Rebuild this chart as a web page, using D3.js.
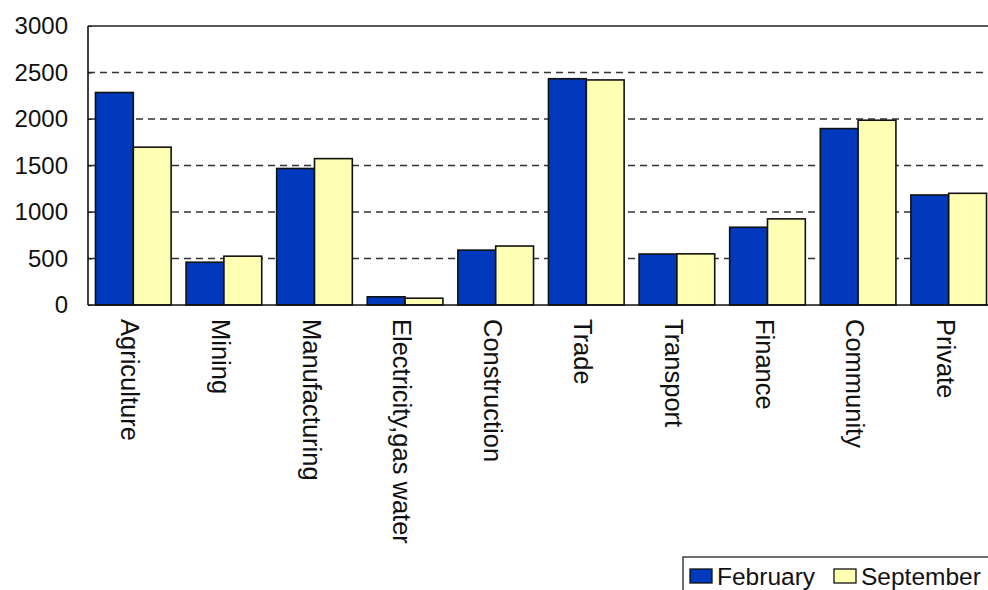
<!DOCTYPE html>
<html>
<head>
<meta charset="utf-8">
<script src="https://cdn.jsdelivr.net/npm/d3@7"></script>
<style>
  body { margin: 0; background: #fff; }
  svg { display: block; font-family: "Liberation Sans", Arial, sans-serif; }
</style>
</head>
<body>
<svg id="chart" width="988" height="590"></svg>
<script>
var categories = ['Agriculture', 'Mining', 'Manufacturing', 'Electricity,gas water',
    'Construction', 'Trade', 'Transport', 'Finance', 'Community', 'Private'];
var seriesNames = ['February', 'September'];
var february = [2285, 460, 1468, 88, 590, 2433, 548, 836, 1897, 1183];
var september = [1697, 525, 1574, 73, 634, 2420, 550, 926, 1987, 1201];
var yTicks = [0, 500, 1000, 1500, 2000, 2500, 3000];
var colors = ['#0039bd', '#ffffb3'];

var svg = d3.select('#chart');
var plotLeft = 88, plotTop = 26, plotBottom = 305, plotRight = 994;

var x = d3.scaleBand()
    .domain(categories)
    .range([plotLeft, plotRight])
    .paddingInner(0.165)
    .paddingOuter(0.0825);

var xSub = d3.scaleBand()
    .domain(seriesNames)
    .range([0, x.bandwidth()]);

var y = d3.scaleLinear()
    .domain([0, 3000])
    .range([plotBottom, plotTop]);

// dashed grid
svg.append('g')
    .selectAll('line')
    .data(yTicks.filter(function(t) { return t > 0 && t < 3000; }))
    .enter().append('line')
    .attr('x1', plotLeft).attr('x2', plotRight)
    .attr('y1', function(d) { return y(d); })
    .attr('y2', function(d) { return y(d); })
    .attr('stroke', '#333')
    .attr('stroke-width', 1.3)
    .attr('stroke-dasharray', '7,5');

// top border
svg.append('line')
    .attr('x1', plotLeft).attr('x2', plotRight)
    .attr('y1', y(3000)).attr('y2', y(3000))
    .attr('stroke', '#222').attr('stroke-width', 1.6);

// bars
var data = [february, september];
var groups = svg.append('g')
    .selectAll('g')
    .data(seriesNames)
    .enter().append('g')
    .attr('fill', function(d, i) { return colors[i]; });

groups.each(function(name, si) {
    d3.select(this).selectAll('rect')
        .data(data[si])
        .enter().append('rect')
        .attr('x', function(d, i) { return x(categories[i]) + xSub(name); })
        .attr('y', function(d) { return y(d); })
        .attr('width', xSub.bandwidth())
        .attr('height', function(d) { return y(0) - y(d); })
        .attr('stroke', '#111')
        .attr('stroke-width', 1.6);
});

// y axis
var yAxis = d3.axisLeft(y)
    .tickValues(yTicks)
    .tickFormat(d3.format('d'))
    .tickSize(-4)
    .tickPadding(20);

var gy = svg.append('g')
    .attr('transform', 'translate(' + plotLeft + ',0)')
    .call(yAxis);
gy.select('.domain').remove();
gy.selectAll('.tick line').attr('stroke', '#222');
gy.selectAll('text')
    .attr('font-size', 24)
    .attr('fill', '#111')
    .attr('font-family', '"Liberation Sans", Arial, sans-serif');

svg.append('line')
    .attr('x1', plotLeft).attr('x2', plotLeft)
    .attr('y1', plotTop).attr('y2', plotBottom)
    .attr('stroke', '#111').attr('stroke-width', 1.6);

// baseline
svg.append('line')
    .attr('x1', plotLeft).attr('x2', plotRight)
    .attr('y1', y(0)).attr('y2', y(0))
    .attr('stroke', '#111').attr('stroke-width', 1.6);

// category labels, rotated
svg.append('g')
    .selectAll('text')
    .data(categories)
    .enter().append('text')
    .attr('transform', function(d) {
        return 'translate(' + (x(d) + x.bandwidth() / 2 - 3) + ',' + (plotBottom + 14) + ') rotate(90)';
    })
    .attr('font-size', 25.5)
    .attr('fill', '#111')
    .attr('dy', '0.35em')
    .text(function(d) { return d; });

// legend
var legend = svg.append('g').attr('transform', 'translate(683,557)');
legend.append('rect')
    .attr('x', 0).attr('y', 0)
    .attr('width', 320).attr('height', 40)
    .attr('fill', '#fff')
    .attr('stroke', '#111').attr('stroke-width', 1.2);

var items = [{ name: seriesNames[0], x: 7, tx: 34 }, { name: seriesNames[1], x: 151, tx: 178 }];
items.forEach(function(it, i) {
    legend.append('rect')
        .attr('x', it.x).attr('y', 12)
        .attr('width', 22).attr('height', 14)
        .attr('fill', colors[i])
        .attr('stroke', '#111').attr('stroke-width', 1.3);
    legend.append('text')
        .attr('x', it.tx).attr('y', 28)
        .attr('font-size', 24.5)
        .attr('fill', '#111')
        .text(it.name);
});
</script>
</body>
</html>
